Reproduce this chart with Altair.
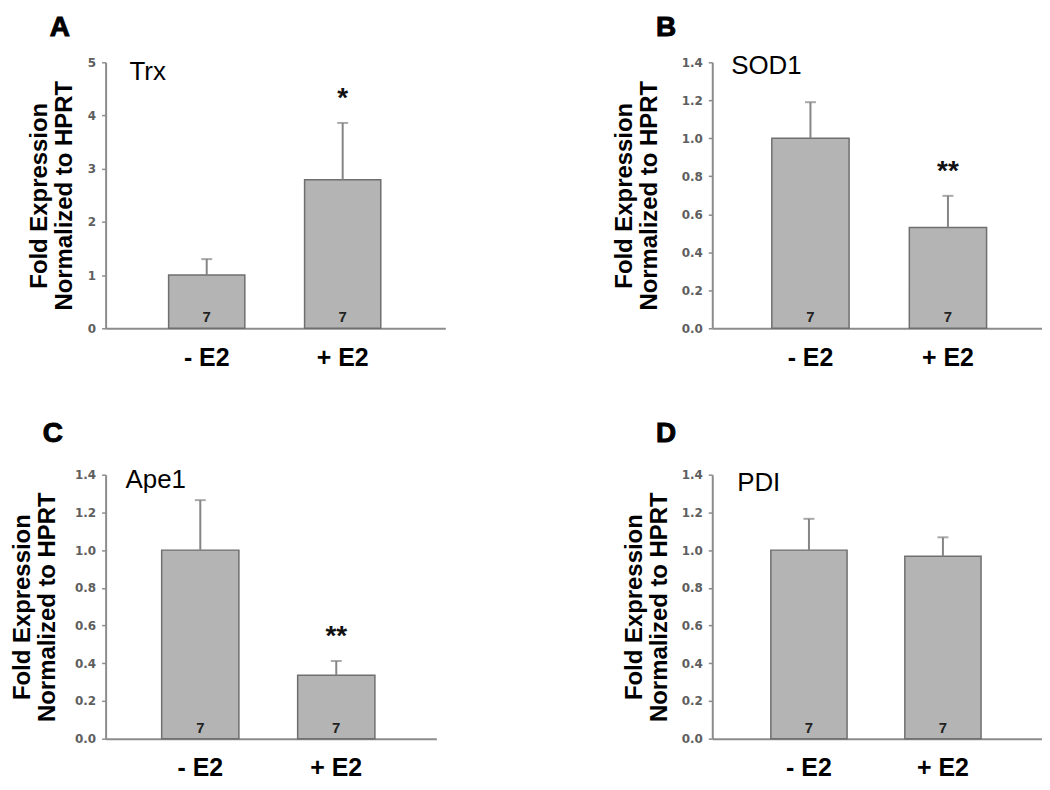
import altair as alt
import pandas as pd

# ---------------- data ----------------
conditions = ["- E2", "+ E2"]
panel_letters = ["A", "B", "C", "D"]
genes = ["Trx", "SOD1", "Ape1", "PDI"]
mean_trx = [1.00, 2.79]
upper_trx = [1.30, 3.86]
mean_sod1 = [1.00, 0.53]
upper_sod1 = [1.19, 0.697]
mean_ape1 = [1.00, 0.337]
upper_ape1 = [1.265, 0.412]
mean_pdi = [1.00, 0.967]
upper_pdi = [1.166, 1.068]
n_per_group = ["7", "7"]
stars_trx = ["", "*"]
stars_sod1 = ["", "**"]
stars_ape1 = ["", "**"]
stars_pdi = ["", ""]
ticks_trx = [0, 1, 2, 3, 4, 5]
ticks_small = [0.0, 0.2, 0.4, 0.6, 0.8, 1.0, 1.2, 1.4]

series = {
    "Trx": (mean_trx, upper_trx, stars_trx, 5, ticks_trx, "d"),
    "SOD1": (mean_sod1, upper_sod1, stars_sod1, 1.4, ticks_small, ".1f"),
    "Ape1": (mean_ape1, upper_ape1, stars_ape1, 1.4, ticks_small, ".1f"),
    "PDI": (mean_pdi, upper_pdi, stars_pdi, 1.4, ticks_small, ".1f"),
}

# ---------------- styling / layout (not data) ----------------
layout = {
    "Trx": dict(w=341, h=267, pi=0.4396, po=0.469, al=0.494, tx=-59, lx=-46, ly=-26, gx=24, gy=18),
    "SOD1": dict(w=331, h=267, pi=0.438, po=0.418, al=0.518, tx=-81, lx=-46.5, ly=-26, gx=19, gy=12),
    "Ape1": dict(w=332, h=265, pi=0.432, po=0.432, al=0.477, tx=-76, lx=-53, ly=-33, gx=20, gy=13),
    "PDI": dict(w=331, h=265, pi=0.431, po=0.446, al=0.49, tx=-71, lx=-46.5, ly=-33, gx=25, gy=16),
}

SANS = "Liberation Sans"
BAR_FILL = "#b4b4b4"
BAR_STROKE = "#6f6f6f"
AXIS_GRAY = "#8c8c8c"


def panel(letter, gene):
    mean, upper, stars, ymax, ticks, fmt = series[gene]
    L = layout[gene]
    df = pd.DataFrame({"cond": conditions, "mean": mean, "upper": upper,
                       "n": n_per_group, "star": stars})
    xenc = alt.X("cond:N", sort=conditions, title=None,
                 scale=alt.Scale(paddingInner=L["pi"], paddingOuter=L["po"], align=L["al"]),
                 axis=alt.Axis(labelAngle=0, ticks=False, tickSize=0, labelPadding=17,
                               labelFont=SANS, labelFontSize=25, labelFontWeight="bold",
                               labelColor="#000000", domainColor=AXIS_GRAY, domainWidth=2))
    yscale = alt.Scale(domain=[0, ymax], nice=False, zero=True)
    yaxis = alt.Axis(values=ticks, format=fmt, grid=False, labelOverlap=False,
                     title=["Fold Expression", "Normalized to HPRT"],
                     titleFont=SANS, titleFontSize=24, titleFontWeight="bold",
                     titleColor="#000000", titleAngle=270, titleBaseline="alphabetic",
                     titleAlign="center", titleLineHeight=25, titleX=L["tx"], titleY=L["h"] / 2,
                     labelFont="DejaVu Sans", labelFontSize=12, labelFontWeight="bold",
                     labelColor="#5e5e5e", labelPadding=6,
                     tickSize=4, tickColor=AXIS_GRAY, tickWidth=1.5,
                     domainColor=AXIS_GRAY, domainWidth=2)

    def yq(field):
        return alt.Y(field, type="quantitative", scale=yscale, axis=yaxis)

    base = alt.Chart(df)
    bars = base.mark_bar(color=BAR_FILL, stroke=BAR_STROKE, strokeWidth=1.5).encode(
        x=xenc, y=yq("mean"))
    whisker = base.mark_rule(color="#858585", strokeWidth=2).encode(
        x=xenc, y=yq("mean"), y2="upper:Q")
    cap = base.mark_tick(color="#858585", size=11, thickness=2).encode(
        x=xenc, y=yq("upper"))
    star = base.mark_text(font=SANS, fontSize=28, fontWeight="bold", color="#111111",
                          baseline="alphabetic", dy=-16).encode(
        x=xenc, y=yq("upper"), text="star:N")
    nlab = base.mark_text(font=SANS, fontSize=15, fontWeight="bold", color="#222222",
                          baseline="alphabetic", dy=-6).encode(
        x=xenc, y=alt.YDatum(0, type="quantitative", scale=yscale, axis=yaxis), text="n:N")
    ann = pd.DataFrame({"gene": [gene], "letter": [letter]})
    gene_txt = alt.Chart(ann).mark_text(font=SANS, fontSize=26, color="#000000",
                                         align="left", baseline="alphabetic").encode(
        x=alt.value(L["gx"]), y=alt.value(L["gy"]), text="gene:N")
    letter_txt = alt.Chart(ann).mark_text(font=SANS, fontSize=28, fontWeight="bold",
                                           color="#000000", stroke="#000000", strokeWidth=1,
                                           align="center", baseline="alphabetic").encode(
        x=alt.value(L["lx"]), y=alt.value(L["ly"]), text="letter:N")
    return alt.layer(bars, whisker, cap, star, nlab, gene_txt, letter_txt).properties(
        width=L["w"], height=L["h"])


charts = [panel(l, g) for l, g in zip(panel_letters, genes)]

chart = alt.concat(*charts, columns=2, align="all", bounds="flush",
                   spacing={"row": 147, "column": 268}).properties(
    padding={"top": 5, "left": 2, "right": 0, "bottom": 5}
).configure_view(stroke=None)

chart.save("out.html", embed_options={"renderer": "svg", "actions": False})
